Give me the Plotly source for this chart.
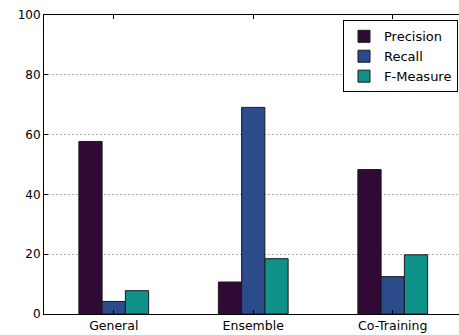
import plotly.graph_objects as go

# Scores per training strategy (%)
categories = ["General", "Ensemble", "Co-Training"]
precision = [57.7, 10.7, 48.3]
recall = [4.2, 69.1, 12.5]
f_measure = [7.8, 18.5, 19.8]
y_ticks = [0, 20, 40, 60, 80, 100]

series = [
    ("Precision", precision, "#300a34"),
    ("Recall", recall, "#2c4b8b"),
    ("F-Measure", f_measure, "#0e9188"),
]

fig = go.Figure()
x_idx = list(range(len(categories)))
for name, vals, color in series:
    fig.add_trace(go.Bar(
        x=x_idx, y=vals, name=name,
        marker=dict(color=color, line=dict(color="#1a1a1a", width=1)),
    ))

font = dict(family="DejaVu Sans", size=12, color="#000000")

fig.update_layout(
    width=459, height=335,
    margin=dict(l=44, r=0, t=15, b=21),
    paper_bgcolor="white", plot_bgcolor="white",
    barmode="group", bargap=0.5, bargroupgap=0,
    font=font,
    showlegend=True,
    legend=dict(
        x=0.9976, xanchor="right", y=0.982, yanchor="top",
        bgcolor="white", bordercolor="#000000", borderwidth=1,
        font=dict(family="DejaVu Sans", size=13, color="#000000"),
        tracegroupgap=2, itemwidth=30,
    ),
    xaxis=dict(
        range=[-0.5, 2.475],
        tickmode="array", tickvals=x_idx, ticktext=categories,
        tickfont=dict(family="DejaVu Sans", size=12.5, color="#000000"),
        showline=True, linecolor="#000000", linewidth=1,
        mirror="ticks", ticks="inside", ticklen=4, tickcolor="#000000",
        showgrid=False, zeroline=False,
    ),
    yaxis=dict(
        range=[0, 100],
        tickmode="array", tickvals=y_ticks,
        showline=True, linecolor="#000000", linewidth=1,
        ticks="inside", ticklen=4, tickcolor="#000000",
        showgrid=True, gridcolor="#b0b0b0", gridwidth=0.7, griddash="2px,2px",
        zeroline=False,
    ),
)

fig.write_html("out.html")
